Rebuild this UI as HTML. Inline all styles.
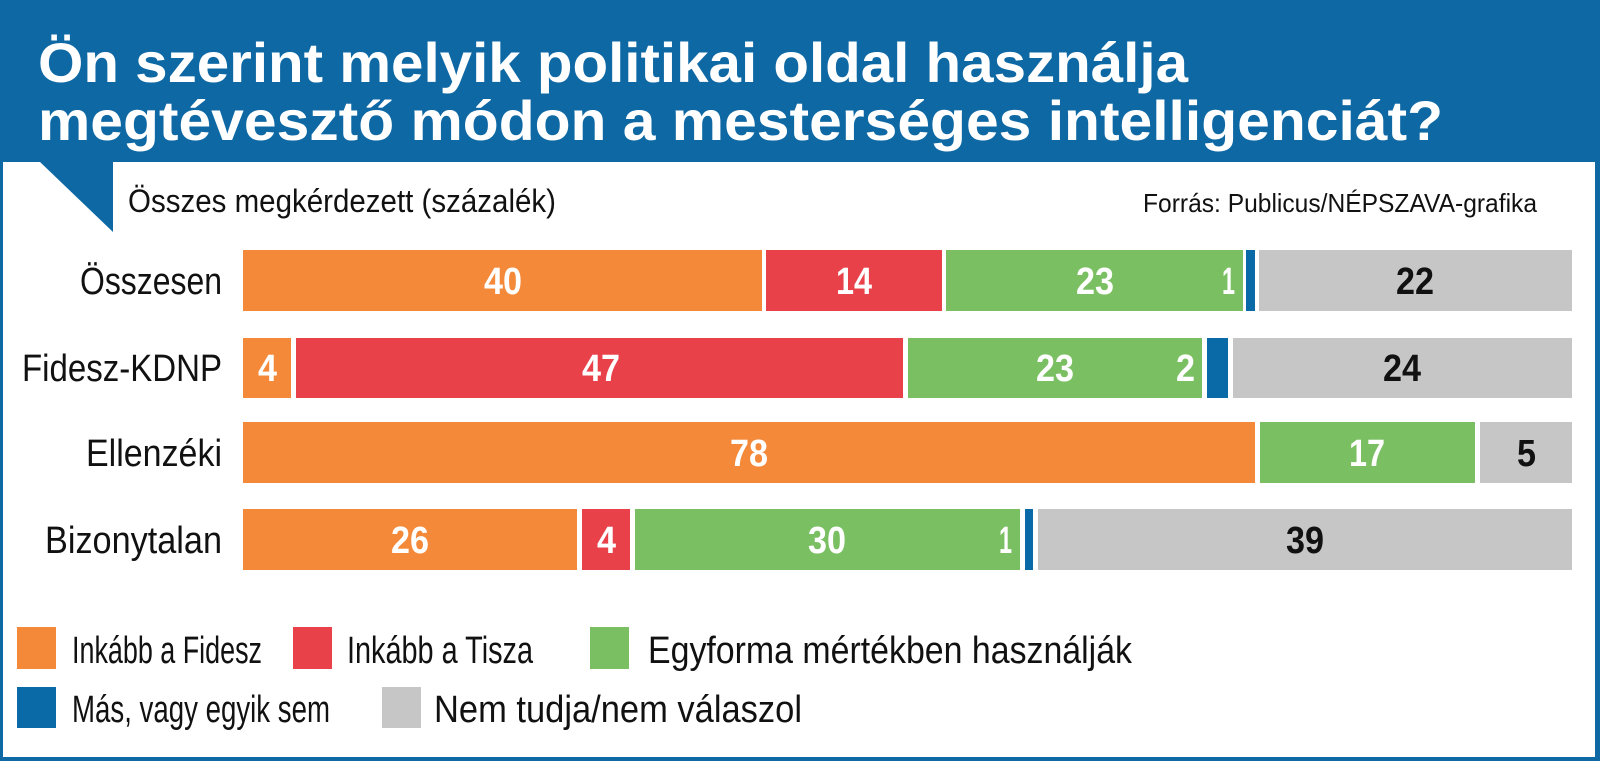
<!DOCTYPE html>
<html><head><meta charset="utf-8"><style>body{margin:0;background:#fff}svg{display:block}</style></head><body>
<svg width="1600" height="761" viewBox="0 0 1600 761" xmlns="http://www.w3.org/2000/svg" font-family="'Liberation Sans',sans-serif">
<rect x="0" y="0" width="1600" height="761" fill="#0e68a4"/>
<rect x="3" y="162" width="1592" height="595" fill="#fff"/>
<polygon points="40,162 113,162 113,232" fill="#0e68a4"/>
<g font-weight="bold" fill="#fff" font-size="56">
<text x="38" y="82" textLength="1150" lengthAdjust="spacingAndGlyphs">Ön szerint melyik politikai oldal használja</text>
<text x="38" y="140" textLength="1405" lengthAdjust="spacingAndGlyphs">megtévesztő módon a mesterséges intelligenciát?</text>
</g>
<text x="128" y="212" font-size="32" fill="#111" textLength="428" lengthAdjust="spacingAndGlyphs">Összes megkérdezett (százalék)</text>
<text x="1143" y="212" font-size="26" fill="#111" textLength="394" lengthAdjust="spacingAndGlyphs">Forrás: Publicus/NÉPSZAVA-grafika</text>
<g font-size="38" fill="#111">
<text x="80" y="294" textLength="142" lengthAdjust="spacingAndGlyphs">Összesen</text>
<text x="22" y="381" textLength="200" lengthAdjust="spacingAndGlyphs">Fidesz-KDNP</text>
<text x="86" y="466" textLength="136" lengthAdjust="spacingAndGlyphs">Ellenzéki</text>
<text x="45" y="553" textLength="177" lengthAdjust="spacingAndGlyphs">Bizonytalan</text>
</g>
<rect x="243" y="250" width="519" height="61" fill="#f5893a"/>
<rect x="766" y="250" width="176" height="61" fill="#e8414a"/>
<rect x="946" y="250" width="297" height="61" fill="#7bbf63"/>
<rect x="1246" y="250" width="9" height="61" fill="#0a6aa8"/>
<rect x="1259" y="250" width="313" height="61" fill="#c6c6c6"/>
<rect x="243" y="338" width="48" height="60" fill="#f5893a"/>
<rect x="296" y="338" width="607" height="60" fill="#e8414a"/>
<rect x="908" y="338" width="294" height="60" fill="#7bbf63"/>
<rect x="1207" y="338" width="21" height="60" fill="#0a6aa8"/>
<rect x="1233" y="338" width="339" height="60" fill="#c6c6c6"/>
<rect x="243" y="422" width="1012" height="61" fill="#f5893a"/>
<rect x="1260" y="422" width="215" height="61" fill="#7bbf63"/>
<rect x="1480" y="422" width="92" height="61" fill="#c6c6c6"/>
<rect x="243" y="509" width="334" height="61" fill="#f5893a"/>
<rect x="582" y="509" width="48" height="61" fill="#e8414a"/>
<rect x="635" y="509" width="385" height="61" fill="#7bbf63"/>
<rect x="1025" y="509" width="8" height="61" fill="#0a6aa8"/>
<rect x="1038" y="509" width="534" height="61" fill="#c6c6c6"/>
<g font-size="38" font-weight="bold" fill="#fff">
<text x="484" y="294" textLength="38" lengthAdjust="spacingAndGlyphs">40</text>
<text x="836" y="294" textLength="36" lengthAdjust="spacingAndGlyphs">14</text>
<text x="1076" y="294" textLength="38" lengthAdjust="spacingAndGlyphs">23</text>
<text x="1222" y="294" textLength="13" lengthAdjust="spacingAndGlyphs">1</text>
<text x="258" y="381" textLength="19" lengthAdjust="spacingAndGlyphs">4</text>
<text x="582" y="381" textLength="38" lengthAdjust="spacingAndGlyphs">47</text>
<text x="1036" y="381" textLength="38" lengthAdjust="spacingAndGlyphs">23</text>
<text x="1176" y="381" textLength="19" lengthAdjust="spacingAndGlyphs">2</text>
<text x="730" y="466" textLength="38" lengthAdjust="spacingAndGlyphs">78</text>
<text x="1349" y="466" textLength="36" lengthAdjust="spacingAndGlyphs">17</text>
<text x="391" y="553" textLength="38" lengthAdjust="spacingAndGlyphs">26</text>
<text x="597" y="553" textLength="19" lengthAdjust="spacingAndGlyphs">4</text>
<text x="808" y="553" textLength="38" lengthAdjust="spacingAndGlyphs">30</text>
<text x="999" y="553" textLength="13" lengthAdjust="spacingAndGlyphs">1</text>
</g>
<g font-size="38" font-weight="bold" fill="#111">
<text x="1396" y="294" textLength="38" lengthAdjust="spacingAndGlyphs">22</text>
<text x="1383" y="381" textLength="38" lengthAdjust="spacingAndGlyphs">24</text>
<text x="1517" y="466" textLength="19" lengthAdjust="spacingAndGlyphs">5</text>
<text x="1286" y="553" textLength="38" lengthAdjust="spacingAndGlyphs">39</text>
</g>
<rect x="17" y="627" width="39" height="42" fill="#f5893a"/>
<rect x="293" y="627" width="39" height="42" fill="#e8414a"/>
<rect x="590" y="627" width="39" height="42" fill="#7bbf63"/>
<rect x="17" y="687" width="39" height="41" fill="#0a6aa8"/>
<rect x="382" y="687" width="39" height="41" fill="#c6c6c6"/>
<g font-size="38" fill="#111">
<text x="72" y="663" textLength="190" lengthAdjust="spacingAndGlyphs">Inkább a Fidesz</text>
<text x="347" y="663" textLength="186" lengthAdjust="spacingAndGlyphs">Inkább a Tisza</text>
<text x="648" y="663" textLength="484" lengthAdjust="spacingAndGlyphs">Egyforma mértékben használják</text>
<text x="72" y="722" textLength="258" lengthAdjust="spacingAndGlyphs">Más, vagy egyik sem</text>
<text x="434" y="722" textLength="368" lengthAdjust="spacingAndGlyphs">Nem tudja/nem válaszol</text>
</g>
</svg>
</body></html>
